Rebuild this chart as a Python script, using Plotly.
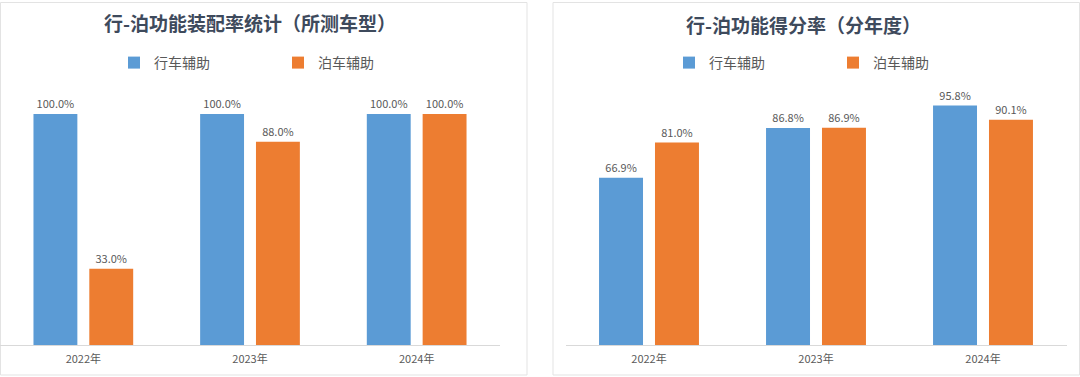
import plotly.graph_objects as go

W, H = 1080, 377

years = ["2022年", "2023年", "2024年"]
series_names = ["行车辅助", "泊车辅助"]

# Left chart: 配置率 (%)
fit_drive = [100.0, 100.0, 100.0]
fit_park = [33.0, 88.0, 100.0]

# Right chart: 得分率 (%)
score_drive = [66.9, 86.8, 95.8]
score_park = [81.0, 86.9, 90.1]

title_left = "行-泊功能装配率统计（所测车型）"
title_right = "行-泊功能得分率（分年度）"

BLUE = "#5B9BD5"
ORANGE = "#ED7D31"
FONT = "Noto Sans CJK SC"
LABEL_COLOR = "#595959"

fig = go.Figure()

def add_bars(vals, name, color, xa, ya, legend, show):
    fig.add_trace(go.Bar(
        x=years, y=vals, name=name, marker=dict(color=color, line=dict(width=0)),
        text=[f"{v:.1f}%" for v in vals], textposition="outside",
        textfont=dict(size=11, color=LABEL_COLOR, family=FONT),
        cliponaxis=False, xaxis=xa, yaxis=ya, legend=legend, showlegend=show,
        hoverinfo="skip",
    ))

add_bars(fit_drive, series_names[0], BLUE, "x", "y", "legend", True)
add_bars(fit_park, series_names[1], ORANGE, "x", "y", "legend", True)
add_bars(score_drive, series_names[0], BLUE, "x2", "y2", "legend2", True)
add_bars(score_park, series_names[1], ORANGE, "x2", "y2", "legend2", True)

y_bottom = (H - 345) / H
y_top = (H - 95) / H
plot_h = 250

xcommon = dict(type="category", showline=True, linecolor="#d9d9d9", linewidth=1,
               ticks="", showgrid=False, zeroline=False, ticklabelstandoff=4,
               tickfont=dict(size=11, color=LABEL_COLOR, family=FONT), fixedrange=True)
ycommon = dict(visible=False, showgrid=False, zeroline=False, fixedrange=True)

legend_common = dict(orientation="h", xanchor="left", y=(H - 63) / H, yanchor="middle",
                     entrywidth=119, font=dict(size=14, color=LABEL_COLOR, family=FONT),
                     bgcolor="rgba(0,0,0,0)", traceorder="normal")

fig.update_layout(
    width=W, height=H,
    margin=dict(l=0, r=0, t=0, b=0),
    paper_bgcolor="white", plot_bgcolor="white",
    barmode="group", bargap=0.33, bargroupgap=0.214,
    font=dict(family=FONT, color=LABEL_COLOR),
    xaxis=dict(domain=[0 / W, 500 / W], anchor="y", **xcommon),
    yaxis=dict(domain=[y_bottom, y_top], range=[0, plot_h / 2.31], anchor="x", **ycommon),
    xaxis2=dict(domain=[565.5 / W, 1066.5 / W], anchor="y2", **xcommon),
    yaxis2=dict(domain=[y_bottom, y_top], range=[0, plot_h / 2.50], anchor="x2", **ycommon),
    legend=dict(x=114 / W, **legend_common),
    legend2=dict(x=669 / W, **legend_common),
    annotations=[
        dict(text=f"<b>{title_left}</b>", x=250 / W, y=(H - 23) / H, xref="paper", yref="paper",
             showarrow=False, font=dict(size=19, color="#3e4a5c", family=FONT),
             xanchor="center", yanchor="middle"),
        dict(text=f"<b>{title_right}</b>", x=803 / W, y=(H - 24) / H, xref="paper", yref="paper",
             showarrow=False, font=dict(size=19, color="#3e4a5c", family=FONT),
             xanchor="center", yanchor="middle"),
    ],
    shapes=[
        dict(type="rect", xref="paper", yref="paper", x0=0.5 / W, x1=527 / W,
             y0=(H - 375) / H, y1=(H - 2.5) / H, line=dict(color="#e3e3e3", width=1),
             fillcolor="rgba(0,0,0,0)", layer="below"),
        dict(type="rect", xref="paper", yref="paper", x0=553 / W, x1=1079.5 / W,
             y0=(H - 375) / H, y1=(H - 2.5) / H, line=dict(color="#e3e3e3", width=1),
             fillcolor="rgba(0,0,0,0)", layer="below"),
    ],
)

fig.write_html(
    "out.html",
    config={"displayModeBar": False, "staticPlot": False},
    post_script="document.body.style.margin='0px';document.body.style.overflow='hidden';",
)
